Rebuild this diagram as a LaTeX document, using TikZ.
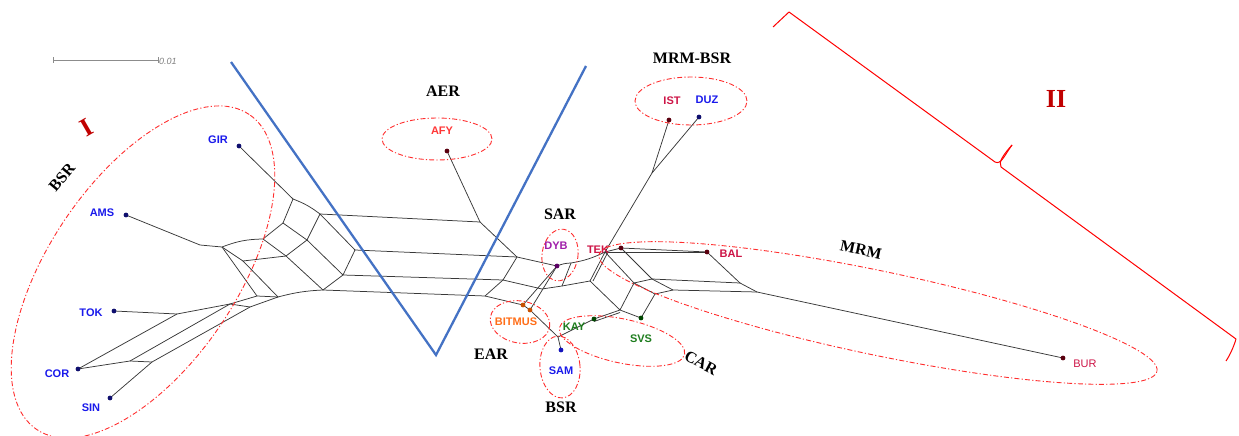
\documentclass[tikz,border=0pt]{standalone}
\usepackage{fontspec}
\setmainfont{Liberation Serif}
\setsansfont{Liberation Sans}
\definecolor{taxblue}{RGB}{25,25,235}
\definecolor{taxred}{RGB}{255,55,55}
\definecolor{taxcrim}{RGB}{205,20,70}
\definecolor{taxpurp}{RGB}{160,30,170}
\definecolor{taxorange}{RGB}{255,110,25}
\definecolor{taxgreen}{RGB}{30,125,30}
\definecolor{ellred}{RGB}{255,45,45}
\definecolor{vblue}{RGB}{68,114,196}
\definecolor{romred}{RGB}{192,0,0}
\definecolor{brred}{RGB}{255,0,0}
\definecolor{dblue}{RGB}{15,15,110}
\definecolor{dred}{RGB}{90,0,15}
\definecolor{dpurp}{RGB}{90,0,100}
\definecolor{dorange}{RGB}{200,80,0}
\definecolor{dgreen}{RGB}{0,70,0}
\begin{document}
\begin{tikzpicture}[x=1pt,y=-1pt,
  net/.style={draw=black!78, line width=0.75pt},
  dot/.style={circle, inner sep=0pt, minimum size=4.8pt},
  tx/.style={font=\sffamily\bfseries\fontsize{11}{12}\selectfont, inner sep=0pt},
  grp/.style={font=\rmfamily\bfseries\fontsize{16}{18}\selectfont, inner sep=0pt},
  roman/.style={font=\rmfamily\bfseries\fontsize{26}{28}\selectfont, inner sep=0pt, text=romred},
  ell/.style={draw=ellred, line width=0.9pt, dash pattern=on 5pt off 2.2pt on 1.2pt off 2.2pt},
  vline/.style={draw=vblue, line width=2.3pt},
  brace/.style={draw=brred, line width=1pt, line join=round}]
\useasboundingbox (0,0) rectangle (1239,436);

% ---------- taxa positions ----------
\coordinate (gir) at (239,146);
\coordinate (ams) at (126,215);
\coordinate (tok) at (114,311);
\coordinate (cor) at (78,369);
\coordinate (sin) at (110,398);
\coordinate (afy) at (447,151);
\coordinate (dyb) at (557,266);
\coordinate (tek) at (621,248);
\coordinate (bal) at (707,252);
\coordinate (bit1) at (523,305);
\coordinate (bit2) at (530,310);
\coordinate (kay) at (594,319);
\coordinate (svs) at (641,318);
\coordinate (sam) at (561,350);
\coordinate (ist) at (669,120);
\coordinate (duz) at (699,117);
\coordinate (bur) at (1063,358);

% ---------- internal vertices ----------
\coordinate (a1) at (293,199);
\coordinate (a2) at (320,214);
\coordinate (a3) at (283,223);
\coordinate (a4) at (307,240);
\coordinate (a5) at (355,250);
\coordinate (a6) at (263,239);
\coordinate (a7) at (286,256);
\coordinate (a8) at (343,275);
\coordinate (a9) at (243,261);
\coordinate (a10) at (323,290);
\coordinate (a11) at (278,297);
\coordinate (a12) at (257,296);
\coordinate (a13) at (222,247);
\coordinate (amsj) at (200,245);
\coordinate (tokj) at (177,314);
\coordinate (q1) at (230,304);
\coordinate (q2) at (250,307);
\coordinate (c1) at (130,361);
\coordinate (c2) at (152,362);
\coordinate (afyj) at (480,222);
\coordinate (b2) at (517,257);
\coordinate (b3) at (503,280);
\coordinate (b4) at (485,296);
\coordinate (m1) at (542,289);
\coordinate (m1b) at (562,286);
\coordinate (m2) at (590,281);
\coordinate (m3) at (620,310);
\coordinate (s1) at (571,263);
\coordinate (tekj) at (605,252);
\coordinate (samj) at (558,337);
\coordinate (p1) at (634,283);
\coordinate (p2) at (652,279);
\coordinate (p3) at (655,294);
\coordinate (p4) at (673,290);
\coordinate (r1) at (740,283);
\coordinate (r2) at (757,292);
\coordinate (istj) at (652,173);

% ---------- network edges ----------
\draw[net] (gir) -- (a1);
\draw[net] (ams) -- (amsj) -- (a13);
\draw[net] (a1) to[bend left=8] (a2);
\draw[net] (a1) -- (a3);
\draw[net] (a2) -- (a4);
\draw[net] (a3) -- (a4);
\draw[net] (a2) -- (a5);
\draw[net] (a4) -- (a8);
\draw[net] (a5) -- (a8);
\draw[net] (a3) -- (a6);
\draw[net] (a4) -- (a7);
\draw[net] (a6) -- (a7);
\draw[net] (a7) -- (a10);
\draw[net] (a8) -- (a10);
\draw[net] (a13) to[bend left=10] (a6);
\draw[net] (a13) -- (a9);
\draw[net] (a9) -- (a7);
\draw[net] (a13) -- (a12);
\draw[net] (a9) -- (a11);
\draw[net] (a12) -- (a11);
\draw[net] (a11) to[bend left=6] (a10);
\draw[net] (tok) -- (tokj);
\draw[net] (cor) -- (tokj);
\draw[net] (tokj) -- (q1);
\draw[net] (q1) -- (a12);
\draw[net] (cor) -- (c1) -- (c2);
\draw[net] (sin) -- (c2);
\draw[net] (c1) -- (q1);
\draw[net] (c2) -- (q2);
\draw[net] (q1) -- (q2);
\draw[net] (q2) -- (a11);
% long bands
\draw[net] (a2) -- (afyj);
\draw[net] (afy) -- (afyj);
\draw[net] (afyj) -- (b2);
\draw[net] (a5) -- (b2);
\draw[net] (b2) -- (b3);
\draw[net] (a8) -- (b3);
\draw[net] (b3) -- (b4);
\draw[net] (a10) -- (b4);
\draw[net] (b2) -- (dyb);
\draw[net] (b3) -- (m1);
\draw[net] (b4) -- (bit1);
% right cluster
\draw[net] (bit1) -- (dyb);
\draw[net] (bit2) -- (dyb);
\draw[net] (bit1) -- (bit2);
\draw[net] (m1) -- (m1b) -- (m2);
\draw[net] (dyb) to[bend left=10] (s1);
\draw[net] (s1) to[bend right=8] (tekj);
\draw[net] (s1) -- (m1b);
\draw[net] (m2) -- (tekj);
\draw[net] ([xshift=3pt]m2) -- ([xshift=3pt]tekj);
\draw[net] (m2) -- (m3);
\draw[net] (tekj) -- (p1);
\draw[net] (m3) -- (p1);
\draw[net] (kay) -- (m3);
\draw[net] ([yshift=-2.5pt]kay) -- ([yshift=-2.5pt]m3);
\draw[net] (m3) -- (svs);
\draw[net] (bit2) -- (samj) -- (sam);
\draw[net] (samj) -- (kay);
\draw[net] (tek) -- (tekj);
\draw[net] (tek) -- (bal);
\draw[net] (tekj) -- (bal);
\draw[net] (ist) -- (istj);
\draw[net] (duz) -- (istj);
\draw[net] (istj) -- (tekj);
\draw[net] (tek) -- (p2);
\draw[net] (p1) -- (p2);
\draw[net] (p1) -- (p3);
\draw[net] (p2) -- (p4);
\draw[net] (p3) -- (p4);
\draw[net] (p3) -- (svs);
\draw[net] (p2) -- (r1);
\draw[net] (p4) -- (r2);
\draw[net] (bal) -- (r1);
\draw[net] (r1) -- (r2);
\draw[net] (r2) -- (bur);

% ---------- taxon dots ----------
\node[dot, fill=dblue] (girdot) at (gir) {};
\node[dot, fill=dblue] (amsdot) at (ams) {};
\node[dot, fill=dblue] (tokdot) at (tok) {};
\node[dot, fill=dblue] (cordot) at (cor) {};
\node[dot, fill=dblue] (sindot) at (sin) {};
\node[dot, fill=dred] (afydot) at (afy) {};
\node[dot, fill=dpurp] (dybdot) at (dyb) {};
\node[dot, fill=dred] (tekdot) at (tek) {};
\node[dot, fill=dred] (baldot) at (bal) {};
\node[dot, fill=dorange] (bit1dot) at (bit1) {};
\node[dot, fill=dorange] (bit2dot) at (bit2) {};
\node[dot, fill=dgreen] (kaydot) at (kay) {};
\node[dot, fill=dgreen] (svsdot) at (svs) {};
\node[dot, fill=taxblue!80!black] (samdot) at (sam) {};
\node[dot, fill=dred] (istdot) at (ist) {};
\node[dot, fill=dblue] (duzdot) at (duz) {};
\node[dot, fill=dred] (burdot) at (bur) {};

% ---------- taxon labels ----------
\node[tx, text=taxblue] (girl) at (218,140) {GIR};
\node[tx, text=taxblue] (amsl) at (102,213) {AMS};
\node[tx, text=taxblue] (tokl) at (91,313) {TOK};
\node[tx, text=taxblue] (corl) at (57,374) {COR};
\node[tx, text=taxblue] (sinl) at (91,408) {SIN};
\node[tx, text=taxred] (afyl) at (442,131) {AFY};
\node[tx, text=taxpurp] (dybl) at (556,246) {DYB};
\node[tx, text=taxcrim] (tekl) at (598,250) {TEK};
\node[tx, text=taxcrim] (ball) at (731,254) {BAL};
\node[tx, text=taxorange] (bitl) at (516,322) {BITMUS};
\node[tx, text=taxgreen] (kayl) at (574,327) {KAY};
\node[tx, text=taxgreen] (svsl) at (641,339) {SVS};
\node[tx, text=taxblue] (saml) at (561,371) {SAM};
\node[tx, text=taxcrim] (istl) at (672,101) {IST};
\node[tx, text=taxblue] (duzl) at (707,100) {DUZ};
\node[tx, text=taxcrim, font=\sffamily\fontsize{11}{12}\selectfont] (burl) at (1085,364) {BUR};

% ---------- group ellipses ----------
\draw[ell, rotate around={56:(143,272)}] (143,272) ellipse [x radius=190pt, y radius=94pt];
\draw[ell] (437,139) ellipse [x radius=55pt, y radius=21pt];
\draw[ell] (691,101) ellipse [x radius=56pt, y radius=24pt];
\draw[ell, rotate around={-8:(560,255)}] (560,255) ellipse [x radius=18pt, y radius=26pt];
\draw[ell, rotate around={-10:(520,322)}] (520,322) ellipse [x radius=30pt, y radius=21pt];
\draw[ell, rotate around={5:(560,367)}] (560,367) ellipse [x radius=20pt, y radius=31pt];
\draw[ell, rotate around={-12:(622,341)}] (622,341) ellipse [x radius=64pt, y radius=22pt];
\draw[ell, rotate around={-11.8:(878,313)}] (878,313) ellipse [x radius=285pt, y radius=42pt];

% ---------- group names ----------
\node[grp] (aer) at (443,91) {AER};
\node[grp] (mrmbsr) at (692,58) {MRM-BSR};
\node[grp] (sar) at (560,214) {SAR};
\node[grp] (ear) at (491,354) {EAR};
\node[grp] (bsrb) at (561,407) {BSR};
\node[grp, rotate=-28] (car) at (701,363) {CAR};
\node[grp, rotate=-12] (mrm) at (861,250) {MRM};
\node[grp, rotate=50] (bsrl) at (62,177) {BSR};
\node[roman, rotate=30] (one) at (87,128) {I};
\node[roman] (two) at (1056,99) {II};

% ---------- blue V ----------
\coordinate (vtl) at (231,62);
\coordinate (vb) at (436,355);
\coordinate (vtr) at (586,66);
\draw[vline] (vtl) -- (vb) -- (vtr);

% ---------- red brace ----------
\coordinate (br0) at (773,27);
\coordinate (br1) at (789,12);
\coordinate (br2) at (995,162);
\coordinate (brt) at (1012,145);
\coordinate (br3) at (1001,167);
\coordinate (br4) at (1236,339);
\coordinate (br5) at (1226,361);
\draw[brace] (br0) -- (br1) -- (br2) .. controls (1001,165) and (1004,156) .. (brt);
\draw[brace] (brt) .. controls (1004,154) and (998,162) .. (br3) -- (br4) .. controls (1234,346) and (1230,355) .. (br5);

% ---------- scale bar ----------
\coordinate (sb1) at (53,60);
\coordinate (sb2) at (158,60);
\draw[draw=black!45, line width=0.8pt] (sb1) -- (sb2);
\draw[draw=black!45, line width=0.8pt] ([yshift=-3pt]sb1) -- ([yshift=3pt]sb1);
\draw[draw=black!45, line width=0.8pt] ([yshift=-3pt]sb2) -- ([yshift=3pt]sb2);
\node[font=\sffamily\itshape\fontsize{9}{10}\selectfont, text=black!50, inner sep=0pt, anchor=west] (sbl) at (159,61) {0.01};
\end{tikzpicture}
\end{document}
